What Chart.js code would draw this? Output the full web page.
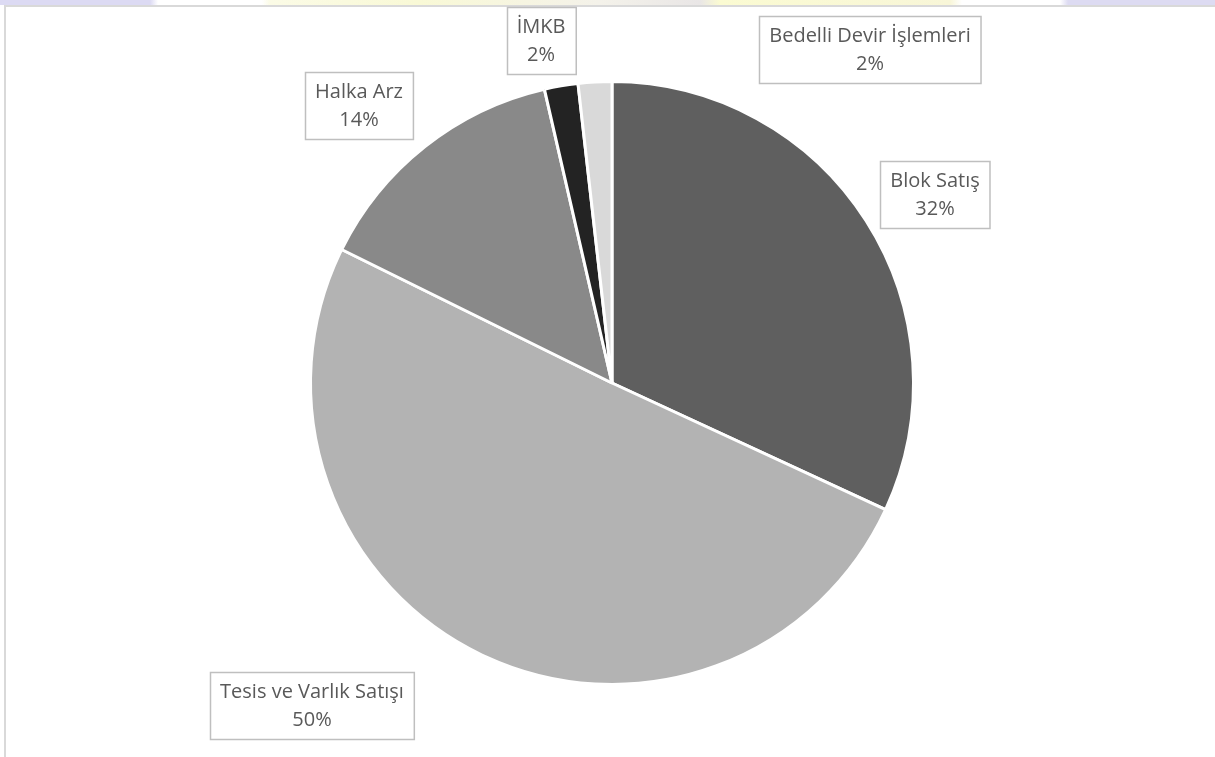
<!DOCTYPE html>
<html>
<head>
<meta charset="utf-8">
<script src="https://cdn.jsdelivr.net/npm/chart.js@4/dist/chart.umd.min.js"></script>
<style>
  html, body { margin: 0; padding: 0; background: #fff; overflow: hidden; }
  body { width: 1215px; height: 757px; position: relative; }
  /* blurred page strip above the chart frame */
  .strip {
    position: absolute; left: 0; top: 0; width: 1215px; height: 5px;
    background: linear-gradient(to right,
      #dcdaf3 0px, #dcdaf3 150px, #fff 158px, #fff 262px, #fbfbe6 270px,
      #f9f9d6 420px, #f4f2ea 600px, #e9e6e6 700px, #fbfbd2 720px,
      #f8f6d8 950px, #fff 962px, #fff 1060px, #dddbf2 1068px, #dddbf2 1215px);
  }
  .frame {
    position: absolute; left: 4px; top: 5px; width: 1300px; height: 800px;
    border-left: 2px solid #d9d9d9; border-top: 2px solid #d9d9d9;
  }
  #wrap { position: absolute; left: 0; top: 0; width: 1215px; height: 757px; }
</style>
</head>
<body>
<div class="strip"></div>
<div class="frame"></div>
<div id="wrap"><canvas id="pieChart"></canvas></div>
<script>
// Pie: share of privatisation methods (clockwise from 12 o'clock)
const categories = ['Blok Satış', 'Tesis ve Varlık Satışı', 'Halka Arz', 'İMKB', 'Bedelli Devir İşlemleri'];
const shares = [31.9, 50.4, 14.1, 1.8, 1.8];
const sliceColours = ['#5f5f5f', '#b3b3b3', '#898989', '#232323', '#d9d9d9'];

// label box centres (page pixels), in the same order as categories
const labelSpots = [
  { x: 935, y: 194 },
  { x: 312, y: 705 },
  { x: 359, y: 105 },
  { x: 541, y: 40 },
  { x: 870, y: 49 }
];

const total = shares.reduce((a, b) => a + b, 0);

const boxLabels = {
  id: 'boxLabels',
  afterDraw(chart) {
    const ctx = chart.ctx;
    ctx.save();
    ctx.font = '20px "Open Sans", "Liberation Sans", sans-serif';
    ctx.textAlign = 'center';
    ctx.textBaseline = 'middle';
    categories.forEach((name, i) => {
      const pct = Math.round(shares[i] / total * 100) + '%';
      const w = Math.max(ctx.measureText(name).width, ctx.measureText(pct).width) + 20;
      const h = 67;
      const c = labelSpots[i];
      const x = Math.round(c.x - w / 2) + 0.5, y = Math.round(c.y - h / 2) + 0.5;
      ctx.fillStyle = '#fff';
      ctx.fillRect(x, y, w, h);
      ctx.strokeStyle = '#bfbfbf';
      ctx.lineWidth = 1.5;
      ctx.strokeRect(x, y, w, h);
      ctx.fillStyle = '#595959';
      ctx.fillText(name, c.x, c.y - 13);
      ctx.fillText(pct, c.x, c.y + 15);
    });
    ctx.restore();
  }
};

new Chart(document.getElementById('pieChart'), {
  type: 'pie',
  data: {
    labels: categories,
    datasets: [{
      data: shares,
      backgroundColor: sliceColours,
      borderColor: '#fff',
      borderWidth: 3
    }]
  },
  options: {
    responsive: true,
    maintainAspectRatio: false,
    animation: false,
    layout: { padding: { left: 309, right: 300, top: 80, bottom: 71 } },
    plugins: {
      legend: { display: false },
      tooltip: { enabled: false }
    }
  },
  plugins: [boxLabels]
});
</script>
</body>
</html>
